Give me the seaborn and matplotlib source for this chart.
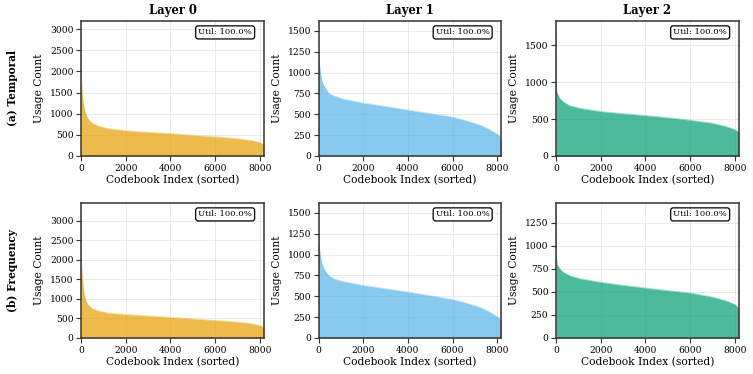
import numpy as np
import pandas as pd
import matplotlib
matplotlib.use("Agg")
import matplotlib.pyplot as plt
import seaborn as sns

# ---- data ----
layers = ["Layer 0", "Layer 1", "Layer 2"]
row_labels = ["(a) Temporal", "(b) Frequency"]
colors = ["#E69F00", "#56B4E9", "#009E73"]
util_text = "Util: 100.0%"

t0_idx = [0, 8, 20, 40, 70, 110, 150, 220, 300, 400, 525, 750, 1200, 2000, 3000, 4000, 5000, 6000, 7000, 7600, 8000, 8191]
t0_val = [2900, 2000, 1800, 1550, 1350, 1200, 1080, 970, 885, 820, 766, 711, 648, 600, 560, 530, 490, 455, 410, 370, 320, 260]
t1_idx = [0, 5, 20, 75, 110, 150, 220, 300, 450, 675, 1050, 2000, 3000, 4000, 5000, 6000, 6500, 7000, 7300, 7600, 7900, 8100, 8191]
t1_val = [1470, 1200, 1150, 1016, 950, 895, 850, 815, 751, 723, 687, 635, 595, 552, 510, 468, 432, 392, 362, 325, 278, 240, 215]
t2_idx = [0, 5, 30, 150, 300, 600, 1050, 2000, 3000, 4000, 5000, 6000, 7000, 7600, 8000, 8191]
t2_val = [1665, 1000, 870, 784, 739, 684, 648, 603, 575, 550, 520, 486, 445, 400, 360, 320]

f0_idx = [0, 8, 20, 40, 60, 100, 150, 220, 300, 525, 750, 1200, 2000, 3000, 4000, 5000, 6000, 7000, 7600, 8000, 8191]
f0_val = [3140, 2100, 1900, 1650, 1449, 1250, 1066, 940, 852, 742, 699, 639, 600, 565, 530, 490, 450, 410, 370, 320, 260]
f1_idx = [0, 5, 20, 75, 110, 150, 220, 300, 450, 675, 1050, 2000, 3000, 4000, 5000, 6000, 6500, 7000, 7300, 7600, 7900, 8100, 8191]
f1_val = [1470, 1180, 1130, 1000, 940, 888, 840, 800, 748, 712, 680, 632, 592, 552, 508, 462, 428, 388, 358, 320, 272, 235, 210]
f2_idx = [0, 5, 45, 150, 300, 600, 1050, 2000, 3000, 4000, 5000, 6000, 7000, 7600, 8000, 8191]
f2_val = [1334, 900, 800, 754, 717, 678, 645, 605, 572, 543, 515, 489, 445, 405, 365, 320]

ylims = [[3190, 1620, 1832], [3453, 1620, 1467]]
yticks = [[[0, 500, 1000, 1500, 2000, 2500, 3000], [0, 250, 500, 750, 1000, 1250, 1500], [0, 500, 1000, 1500]],
          [[0, 500, 1000, 1500, 2000, 2500, 3000], [0, 250, 500, 750, 1000, 1250, 1500], [0, 250, 500, 750, 1000, 1250]]]
xticks = [0, 2000, 4000, 6000, 8000]

series = [[(t0_idx, t0_val), (t1_idx, t1_val), (t2_idx, t2_val)],
          [(f0_idx, f0_val), (f1_idx, f1_val), (f2_idx, f2_val)]]

sns.set_theme(style="ticks")
plt.rcParams["font.family"] = ["DejaVu Serif"]
plt.rcParams["text.color"] = "black"
plt.rcParams["axes.labelcolor"] = "black"

fig, axes = plt.subplots(2, 3, figsize=(7.53, 3.74), dpi=100)
fig.subplots_adjust(left=0.1076, right=0.9814, bottom=0.0963, top=0.9439,
                    wspace=0.298, hspace=0.348)

for r in range(2):
    for c in range(3):
        ax = axes[r, c]
        idx, val = series[r][c]
        df = pd.DataFrame({"idx": idx, "val": val})
        ax.fill_between(df["idx"], 0, df["val"], color=colors[c], alpha=0.7, lw=0)
        sns.lineplot(data=df, x="idx", y="val", ax=ax, color=colors[c], alpha=0.3, lw=0.8)
        ax.set_xlim(0, 8192)
        ax.set_ylim(0, ylims[r][c])
        ax.set_xticks(xticks)
        ax.set_yticks(yticks[r][c])
        ax.grid(True, color="#d0d0d0", alpha=0.5, lw=0.6)
        ax.set_axisbelow(True)
        for s in ax.spines.values():
            s.set_color("#333333")
            s.set_linewidth(1.1)
        ax.tick_params(axis="both", labelsize=6.6, length=3.5, width=0.8, pad=2,
                       color="#333333", labelcolor="black")
        ax.set_xlabel("Codebook Index (sorted)", fontsize=7.7, labelpad=2)
        ax.set_ylabel("Usage Count", fontsize=7.7, labelpad=4)
        ax.text(0.935, 0.945, util_text, transform=ax.transAxes, ha="right", va="top",
                fontsize=6.1,
                bbox=dict(boxstyle="round,pad=0.3", fc="white", ec="black", lw=0.9))
        if r == 0:
            ax.set_title(layers[c], fontsize=8.4, fontweight="bold", pad=5)

for r in range(2):
    pos = axes[r, 0].get_position()
    fig.text(0.016, (pos.y0 + pos.y1) / 2, row_labels[r], rotation=90,
             ha="center", va="center", fontsize=7.7, fontweight="bold")

fig.savefig("out.png", dpi=100)
